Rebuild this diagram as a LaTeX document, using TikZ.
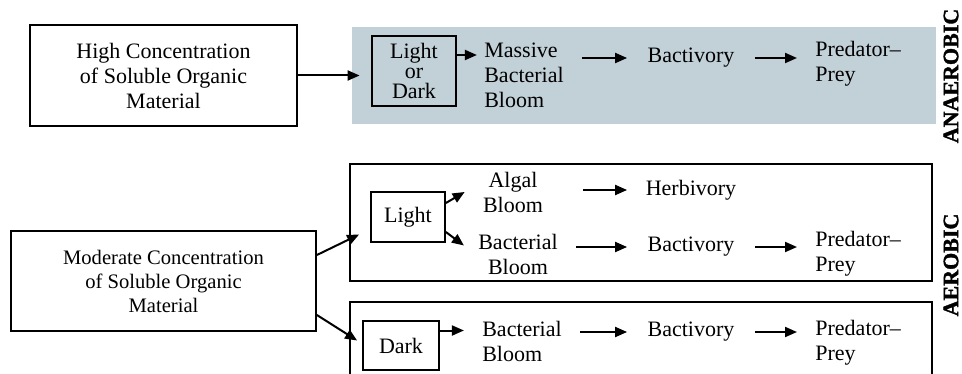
\documentclass[tikz,border=0pt]{standalone}
\usepackage{fontspec}
\setmainfont{Liberation Serif}[BoldFont={Liberation Serif Bold}]
\newfontfamily\sidefont{Liberation Serif Bold}[FakeBold=1.5]
\usetikzlibrary{positioning,arrows.meta}
\definecolor{shadebg}{RGB}{194,208,216}

\begin{document}
\begin{tikzpicture}[x=0.5pt, y=-0.5pt,
  font=\fontsize{11}{12.5}\selectfont,
  box/.style={draw=black, line width=0.9pt, inner sep=0pt, align=center},
  bloom/.style={inner xsep=9pt, inner ysep=0pt},
  feed/.style={inner sep=0pt, minimum width=63.5pt, align=center},
  prey/.style={anchor=west, inner xsep=9pt, inner ysep=0pt, align=left},
  side/.style={rotate=90, inner sep=0pt, font=\fontsize{11}{12}\sidefont},
  arr/.style={-{Triangle[length=6pt,width=5pt]}, line width=1pt}]
  \clip (0,0) rectangle (962,374);
  % anaerobic branch
  \node[box, minimum width=133.5pt, minimum height=50.5pt] (high) at (163.5,75.5) {High Concentration\\of Soluble Organic\\Material};
  \node[fill=shadebg, inner sep=0pt, minimum width=292pt, minimum height=48.5pt] (shade) at (644,75.5) {};
  \node[box, minimum width=42pt, minimum height=35pt, font=\fontsize{11}{10}\selectfont] (lod) at (414,71) {Light\\or\\Dark};
  \node[bloom, align=left] (massive) at (524,75) {Massive\\Bacterial\\Bloom};
  \node[feed] (bact1) at (691,58) {Bactivory};
  \node[prey] (pred1) at (797,63.5) {Predator–\\Prey};
  \node[side] (anaer) at (951,76) {ANAEROBIC};
  % aerobic branch
  \node[box, minimum width=152.5pt, minimum height=50pt, font=\fontsize{10.3}{12}\selectfont] (mod) at (163.5,281) {Moderate Concentration\\of Soluble Organic\\Material};
  \node[box, minimum width=291pt, minimum height=58.5pt] (lightbr) at (641,222.5) {};
  \node[box, minimum width=291pt, minimum height=60pt] (darkbr) at (641,362) {};
  \node[box, minimum width=37pt, minimum height=25pt] (light) at (408,217) {Light};
  \node[bloom, align=center] (algal) at (513,192) {Algal\\Bloom};
  \node[bloom, align=center] (bbl) at (518,254.5) {Bacterial\\Bloom};
  \node[feed] (herb) at (691,190) {Herbivory};
  \node[feed] (bact2) at (691,247) {Bactivory};
  \node[prey] (pred2) at (797,254) {Predator–\\Prey};
  \node[box, minimum width=38pt, minimum height=24.5pt] (dark) at (401,345.5) {Dark};
  \node[bloom, align=left] (dbb) at (522,341.5) {Bacterial\\Bloom};
  \node[feed] (bact3) at (691,332) {Bactivory};
  \node[prey] (pred3) at (797,342.5) {Predator–\\Prey};
  \node[side] (aer) at (951,265) {AEROBIC};
  % connectors
  \draw[arr, shorten >=-4pt] (high) -- (shade);
  \draw[arr, shorten >=-5.5pt] ([yshift=8pt]lod.east) -- ([yshift=8pt]lod.east -| massive.west);
  \draw[arr] ([yshift=13pt]mod.east) -- ([shift={(5pt,-6pt)}]lightbr.west);
  \draw[arr] ([yshift=-17pt]mod.east) -- ([shift={(-2.5pt,2.5pt)}]dark.west);
  \draw[arr] ([yshift=7pt]light.east) -- (algal.west);
  \draw[arr, shorten >=-2.5pt] ([yshift=-7.5pt]light.east) -- ([yshift=6pt]bbl.west);
  \draw[arr] ([yshift=7.5pt]dark.east) -- ([yshift=7.5pt]dark.east -| dbb.west);
  \draw[arr, shorten <=11pt] (algal.east |- herb) -- (herb);
  \foreach \a/\b in {massive/bact1, bbl/bact2, dbb/bact3} \draw[arr] (\a.east |- \b) -- (\b);
  \foreach \a/\b in {bact1/pred1, bact2/pred2, bact3/pred3} \draw[arr] (\a) -- (\a -| \b.west);
\end{tikzpicture}
\end{document}
